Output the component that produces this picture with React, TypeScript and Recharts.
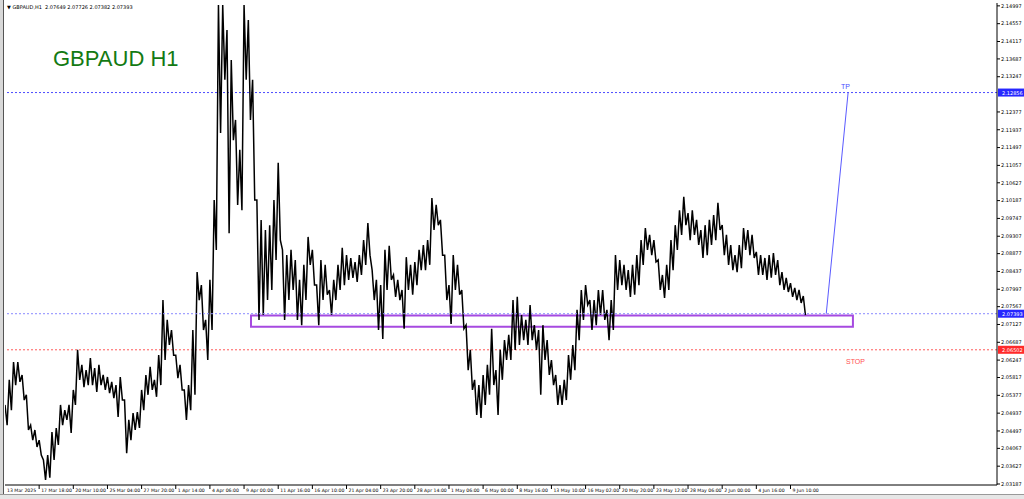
import { ComposedChart, Line, XAxis, YAxis, ReferenceLine, ReferenceArea } from 'recharts';

// H1 bars sampled every 8 hours: high / low of each block
const BARS_PER_POINT = 8;

const highs = [
  2.0514, 2.0576, 2.0620, 2.0620, 2.0588, 2.0539, 2.0464, 2.0452, 2.0427, 2.0378,
  2.0390, 2.0447, 2.0457, 2.0514, 2.0501, 2.0514, 2.0551, 2.0650, 2.0613, 2.0600,
  2.0630, 2.0605, 2.0613, 2.0588, 2.0583, 2.0571, 2.0563, 2.0583, 2.0526, 2.0477,
  2.0494, 2.0496, 2.0551, 2.0588, 2.0608, 2.0576, 2.0637, 2.0773, 2.0724, 2.0699,
  2.0637, 2.0613, 2.0551, 2.0563, 2.0699, 2.0842, 2.0810, 2.0724, 2.0823, 2.1020,
  2.1502, 2.1502, 2.1440, 2.1366, 2.1218, 2.1144, 2.1502, 2.1465, 2.1317, 2.1020,
  2.0971, 2.0946, 2.0958, 2.1020, 2.1112, 2.0897, 2.0884, 2.0897, 2.0872, 2.0823,
  2.0860, 2.0929, 2.0897, 2.0810, 2.0872, 2.0860, 2.0798, 2.0823, 2.0860, 2.0902,
  2.0884, 2.0877, 2.0867, 2.0884, 2.0921, 2.0963, 2.0847, 2.0823, 2.0810, 2.0897,
  2.0907, 2.0835, 2.0823, 2.0798, 2.0879, 2.0860, 2.0867, 2.0897, 2.0909, 2.0921,
  2.1025, 2.1008, 2.0971, 2.0884, 2.0810, 2.0884, 2.0860, 2.0798, 2.0711, 2.0650,
  2.0576, 2.0563, 2.0588, 2.0613, 2.0702, 2.0600, 2.0650, 2.0674, 2.0687, 2.0773,
  2.0781, 2.0736, 2.0724, 2.0761, 2.0711, 2.0699, 2.0711, 2.0674, 2.0625, 2.0588,
  2.0563, 2.0576, 2.0637, 2.0662, 2.0749, 2.0798, 2.0810, 2.0773, 2.0773, 2.0798,
  2.0798, 2.0749, 2.0773, 2.0884, 2.0872, 2.0860, 2.0847, 2.0860, 2.0884, 2.0921,
  2.0951, 2.0934, 2.0921, 2.0872, 2.0835, 2.0860, 2.0921, 2.0958, 2.0995, 2.1028,
  2.0988, 2.0995, 2.0971, 2.0946, 2.0958, 2.0971, 2.0983, 2.1013, 2.0958, 2.0934,
  2.0909, 2.0884, 2.0909, 2.0951, 2.0946, 2.0934, 2.0892, 2.0884, 2.0877, 2.0884,
  2.0889, 2.0872, 2.0842, 2.0828, 2.0815, 2.0803, 2.0798, 2.0783,
];

const lows = [
  2.0464, 2.0501, 2.0563, 2.0571, 2.0526, 2.0452, 2.0427, 2.0410, 2.0390, 2.0329,
  2.0334, 2.0378, 2.0415, 2.0464, 2.0477, 2.0445, 2.0514, 2.0576, 2.0558, 2.0563,
  2.0563, 2.0546, 2.0563, 2.0551, 2.0543, 2.0531, 2.0484, 2.0526, 2.0395, 2.0427,
  2.0452, 2.0457, 2.0501, 2.0539, 2.0551, 2.0534, 2.0563, 2.0625, 2.0662, 2.0637,
  2.0580, 2.0551, 2.0477, 2.0501, 2.0539, 2.0773, 2.0699, 2.0625, 2.0699, 2.0897,
  2.1186, 2.1317, 2.0938, 2.1168, 2.1008, 2.0995, 2.1317, 2.1218, 2.1020, 2.0724,
  2.0736, 2.0773, 2.0798, 2.0872, 2.0921, 2.0724, 2.0773, 2.0798, 2.0724, 2.0711,
  2.0773, 2.0860, 2.0810, 2.0711, 2.0773, 2.0786, 2.0736, 2.0773, 2.0798, 2.0810,
  2.0823, 2.0828, 2.0818, 2.0835, 2.0860, 2.0884, 2.0773, 2.0699, 2.0677, 2.0798,
  2.0823, 2.0781, 2.0773, 2.0702, 2.0798, 2.0786, 2.0810, 2.0847, 2.0847, 2.0860,
  2.0946, 2.0958, 2.0884, 2.0773, 2.0714, 2.0798, 2.0786, 2.0702, 2.0600, 2.0551,
  2.0489, 2.0482, 2.0514, 2.0539, 2.0563, 2.0489, 2.0576, 2.0625, 2.0625, 2.0650,
  2.0662, 2.0674, 2.0662, 2.0674, 2.0650, 2.0539, 2.0625, 2.0588, 2.0563, 2.0514,
  2.0514, 2.0526, 2.0576, 2.0600, 2.0674, 2.0724, 2.0761, 2.0699, 2.0711, 2.0736,
  2.0724, 2.0674, 2.0699, 2.0798, 2.0810, 2.0798, 2.0781, 2.0786, 2.0810, 2.0860,
  2.0897, 2.0884, 2.0867, 2.0798, 2.0778, 2.0798, 2.0847, 2.0897, 2.0934, 2.0958,
  2.0921, 2.0934, 2.0909, 2.0877, 2.0884, 2.0909, 2.0921, 2.0946, 2.0884, 2.0860,
  2.0847, 2.0842, 2.0852, 2.0897, 2.0884, 2.0877, 2.0835, 2.0835, 2.0823, 2.0828,
  2.0835, 2.0810, 2.0798, 2.0793, 2.0781, 2.0773, 2.0766, 2.0736,
];

// one time label every 64 bars
const TICK_STEP = 64;
const timeLabels = [
  '13 Mar 2025', '17 Mar 18:00', '20 Mar 10:00', '25 Mar 04:00', '27 Mar 20:00',
  '1 Apr 14:00', '4 Apr 06:00', '9 Apr 00:00', '11 Apr 16:00', '16 Apr 10:00',
  '21 Apr 04:00', '23 Apr 20:00', '28 Apr 14:00', '1 May 06:00', '6 May 00:00',
  '8 May 16:00', '13 May 10:00', '16 May 02:00', '20 May 20:00', '23 May 12:00',
  '28 May 06:00', '2 Jun 00:00', '4 Jun 16:00', '9 Jun 10:00',
];

const priceTicks = [
  2.14997, 2.14557, 2.14117, 2.13687, 2.13247, 2.12377, 2.11937, 2.11497,
  2.11057, 2.10627, 2.10187, 2.09747, 2.09307, 2.08877, 2.08437, 2.07997,
  2.07567, 2.07127, 2.06687, 2.06247, 2.05817, 2.05377, 2.04937, 2.04497,
  2.04067, 2.03627, 2.03187,
];

const TP_PRICE = 2.12856;
const LAST_PRICE = 2.07393;
const STOP_PRICE = 2.06502;
const ZONE_LOW = 2.0707;
const ZONE_HIGH = 2.0735;
const ZONE_FROM = 461; // bar index
const ZONE_TO = 1589;
const TP_LINE_FROM = 1539;
const TP_LINE_TO = 1580;
const X_MAX = 1859;

// high then low of each block, so the line swings like the bar chart
const data = highs.flatMap((h, i) => [
  { t: i * BARS_PER_POINT, p: h },
  { t: i * BARS_PER_POINT + BARS_PER_POINT / 2, p: lows[i] },
]);
const xTicks = timeLabels.map((_, i) => i * TICK_STEP);

const FONT = 'Tahoma, "DejaVu Sans", sans-serif';

const TimeTick = ({ x, y, payload }: any) => {
  const idx = Math.round(payload.value / TICK_STEP);
  return (
    <g>
      {idx > 0 && <line x1={x} x2={x} y1={y} y2={y + 4} stroke="#000" strokeWidth={1} />}
      <text x={x + 2} y={y + 7} fontSize={4.6} fill="#000" fontFamily={FONT} textAnchor="start">
        {timeLabels[idx]}
      </text>
    </g>
  );
};

const PriceTag = ({ viewBox, text, color }: any) => {
  const right = viewBox.x + viewBox.width;
  const y = viewBox.y;
  return (
    <g>
      <rect x={right + 1} y={y - 4} width={26} height={8} fill={color} />
      <text x={right + 5} y={y + 2} fontSize={5} fill="#fff" fontFamily={FONT}>
        {text}
      </text>
    </g>
  );
};

export default function App() {
  return (
    <div
      style={{
        position: 'absolute',
        left: 0,
        top: 0,
        width: 1024,
        height: 499,
        background: '#fff',
        overflow: 'hidden',
        fontFamily: FONT,
      }}
    >
      <div style={{ position: 'absolute', left: 0, top: 0, width: 3, height: 499, background: '#d8d8d8', borderRight: '1px solid #555' }} />
      <ComposedChart
        width={1024}
        height={499}
        data={data}
        margin={{ top: 3, right: 0, bottom: 0, left: 5 }}
      >
        <XAxis
          dataKey="t"
          type="number"
          domain={[0, X_MAX]}
          ticks={xTicks}
          interval={0}
          height={14}
          tick={<TimeTick />}
          tickLine={false}
          tickSize={0}
          tickMargin={0}
          axisLine={{ stroke: '#000' }}
          allowDataOverflow
        />
        <YAxis
          orientation="right"
          width={27}
          type="number"
          domain={[2.03162, 2.15068]}
          ticks={priceTicks}
          interval={0}
          allowDataOverflow
          tickSize={3}
          tickMargin={1}
          tickFormatter={(v: number) => v.toFixed(5)}
          tick={{ fontSize: 5, fill: '#000', fontFamily: FONT }}
          tickLine={{ stroke: '#000' }}
          axisLine={{ stroke: '#000' }}
        />
        <ReferenceLine
          y={TP_PRICE}
          stroke="#4b4bff"
          strokeDasharray="2 2"
          label={<PriceTag text="2.12856" color="#2727ff" />}
        />
        <ReferenceLine
          y={STOP_PRICE}
          stroke="#ff5a5a"
          strokeDasharray="2 2"
          label={<PriceTag text="2.06502" color="#ff2a2a" />}
        />
        <Line
          type="linear"
          dataKey="p"
          stroke="#000"
          strokeWidth={1.5}
          dot={false}
          activeDot={false}
          isAnimationActive={false}
        />
        <ReferenceLine
          y={LAST_PRICE}
          stroke="#8a8aff"
          strokeDasharray="2 2"
          label={<PriceTag text="2.07393" color="#2727ff" />}
        />
        <ReferenceArea
          x1={ZONE_FROM}
          x2={ZONE_TO}
          y1={ZONE_LOW}
          y2={ZONE_HIGH}
          fill="none"
          stroke="#a64ae0"
          strokeWidth={2}
          ifOverflow="visible"
        />
        <ReferenceLine
          segment={[
            { x: TP_LINE_FROM, y: LAST_PRICE },
            { x: TP_LINE_TO, y: TP_PRICE },
          ]}
          stroke="#5a5aff"
          strokeWidth={1}
        />
      </ComposedChart>

      <div style={{ position: 'absolute', left: 7, top: 4, fontSize: 5, color: '#000', whiteSpace: 'nowrap' }}>
        {'\u25BC'} GBPAUD,H1&nbsp; 2.07649 2.07726 2.07382 2.07393
      </div>
      <div
        style={{
          position: 'absolute',
          left: 53,
          top: 46,
          fontSize: 22,
          color: '#137a13',
          fontFamily: 'Arial, "Liberation Sans", sans-serif',
          whiteSpace: 'nowrap',
        }}
      >
        GBPAUD H1
      </div>
      <div style={{ position: 'absolute', left: 841, top: 83, fontSize: 7, color: '#4b4bff', fontFamily: 'Arial, "Liberation Sans", sans-serif' }}>
        TP
      </div>
      <div style={{ position: 'absolute', left: 846, top: 358, fontSize: 7, color: '#ff5050', fontFamily: 'Arial, "Liberation Sans", sans-serif' }}>
        STOP
      </div>
      <div style={{ position: 'absolute', left: 0, top: 494, width: 1024, height: 5, background: '#e6e6e6', borderTop: '1px solid #999' }} />
    </div>
  );
}
